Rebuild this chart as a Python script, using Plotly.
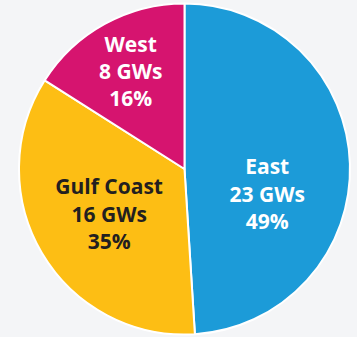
import plotly.graph_objects as go

regions = ["East", "Gulf Coast", "West"]
gws = [23, 16, 8]
percents = [49, 35, 16]
colors = ["#1C9BD8", "#FDBE14", "#D6146F"]
text_colors = ["#FFFFFF", "#231F20", "#FFFFFF"]
# leading blank lines nudge the label block within its slice
label_pad = ["&#160;<br>&#160;<br>", "", ""]

templates = [p + "%{label}<br>%{customdata} GWs<br>%{value}%" for p in label_pad]

fig = go.Figure(go.Pie(
    labels=regions,
    values=percents,
    customdata=gws,
    sort=False,
    direction="clockwise",
    rotation=0,
    marker=dict(colors=colors, line=dict(color="#FFFFFF", width=2)),
    texttemplate=templates,
    textposition="inside",
    insidetextorientation="horizontal",
    textfont=dict(family="Open Sans", size=21, color=text_colors, weight=700),
    hoverinfo="skip",
    showlegend=False,
    domain=dict(x=[0.0532, 0.9804], y=[0.0074, 0.9896]),
))

fig.update_layout(
    width=357, height=337,
    margin=dict(l=0, r=0, t=0, b=0),
    paper_bgcolor="#F4F5F7",
    plot_bgcolor="#F4F5F7",
    uniformtext=dict(mode=False),
)

fig.write_html("out.html")
